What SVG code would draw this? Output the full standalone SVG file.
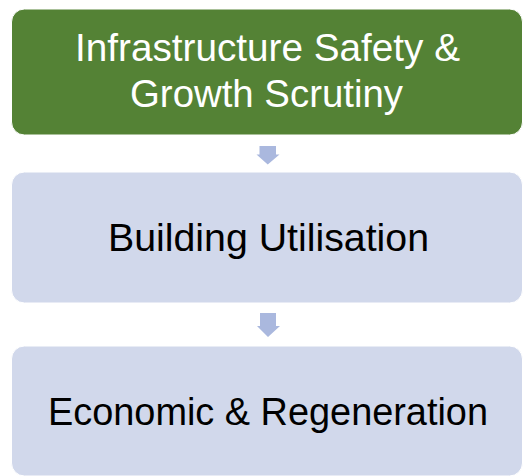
<svg xmlns="http://www.w3.org/2000/svg" width="525" height="476" viewBox="0 0 525 476">
<style>
.box{stroke:#ffffff;stroke-width:1}
.green{fill:#548235}
.light{fill:#d1d8eb}
.arrow{fill:#aab8de}
.t{font-family:"Liberation Sans",Arial,sans-serif;font-size:38px;text-anchor:middle}
.w{fill:#ffffff}
.k{fill:#000000}
</style>
<rect width="525" height="476" fill="#ffffff"/>
<g id="node-infrastructure">
<rect class="box green" x="11.5" y="9" width="511" height="126" rx="13"/>
<text class="t w" x="267.5" y="61" textLength="385" lengthAdjust="spacingAndGlyphs">Infrastructure Safety &amp;</text>
<text class="t w" x="266.5" y="107" textLength="273" lengthAdjust="spacingAndGlyphs">Growth Scrutiny</text>
</g>
<g id="node-building">
<rect class="box light" x="11.5" y="172" width="511" height="131" rx="13"/>
<text class="t k" x="268.5" y="251" textLength="321" lengthAdjust="spacingAndGlyphs">Building Utilisation</text>
</g>
<g id="node-economic">
<rect class="box light" x="11.5" y="346" width="511" height="130" rx="13"/>
<text class="t k" x="268" y="425" textLength="440" lengthAdjust="spacingAndGlyphs">Economic &amp; Regeneration</text>
</g>
<g id="connectors">
<polygon class="arrow" points="259.5,146 276,146 276,154.5 279.5,154.5 267.75,164.5 256.5,154.5 259.5,154.5"/>
<polygon class="arrow" points="260,313 276,313 276,326 280,326 268,337 257,326 260,326"/>
</g>
</svg>
